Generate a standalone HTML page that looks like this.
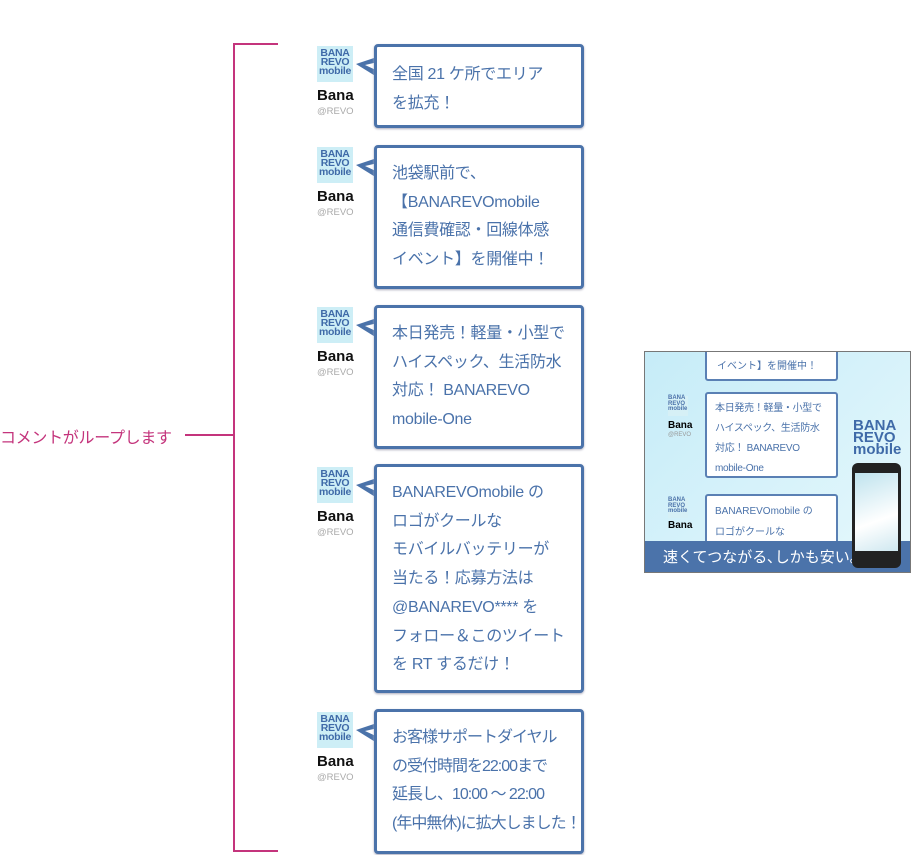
<!DOCTYPE html>
<html><head><meta charset="utf-8"><style>
body{margin:0;width:918px;height:855px;background:#fff;position:relative;overflow:hidden;font-family:"Liberation Sans","Noto Sans CJK JP",sans-serif}
.a{position:absolute}
.bub{position:absolute;left:374px;width:210px;border:3.5px solid #4b73aa;border-radius:4px;background:#fff;color:#4a72aa;font-size:16px;line-height:28.7px;padding:12px 0 0 15px;box-sizing:border-box;box-shadow:0 1px 2px #aab;white-space:nowrap;letter-spacing:-0.3px}
.tail{position:absolute;left:354px}
.logo{position:absolute;left:317px;width:36px;height:36px;background:#cdeef6;color:#3f6aa8;font-weight:bold;font-size:10.5px;line-height:9px;text-align:center;padding-top:3px;box-sizing:border-box;letter-spacing:-0.3px}
.name{position:absolute;left:317px;font-weight:bold;font-size:15px;color:#111}
.at{position:absolute;left:317px;font-size:9.5px;color:#aaa}
</style></head><body>
<div class="a" style="left:233px;top:43px;width:45px;height:2px;background:#c4347c"></div>
<div class="a" style="left:233px;top:43px;width:2px;height:809px;background:#c4347c"></div>
<div class="a" style="left:233px;top:850px;width:45px;height:2px;background:#c4347c"></div>
<div class="a" style="left:185px;top:434px;width:48px;height:1.5px;background:#c4347c"></div>
<div class="a" style="left:0;top:424px;font-size:16px;color:#c4347c;letter-spacing:-0.3px">コメントがループします</div>

<div class="logo" style="top:46px">BANA<br>REVO<br>mobile</div><div class="name" style="top:87px">Bana</div><div class="at" style="top:106px">@REVO</div>
<svg class="tail" style="top:54px" width="24" height="26"><polygon points="23,3 2,10 23,23" fill="#4b73aa"/><polygon points="24,8 11,11 24,17" fill="#fff"/></svg>
<div class="bub" style="top:44px;height:84px;padding-top:14px">全国 21 ケ所でエリア<br>を拡充！</div>

<div class="logo" style="top:147px">BANA<br>REVO<br>mobile</div><div class="name" style="top:188px">Bana</div><div class="at" style="top:207px">@REVO</div>
<svg class="tail" style="top:155px" width="24" height="26"><polygon points="23,3 2,10 23,23" fill="#4b73aa"/><polygon points="24,8 11,11 24,17" fill="#fff"/></svg>
<div class="bub" style="top:145px;height:144px">池袋駅前で、<br>【BANAREVOmobile<br>通信費確認・回線体感<br>イベント】を開催中！</div>

<div class="logo" style="top:307px">BANA<br>REVO<br>mobile</div><div class="name" style="top:348px">Bana</div><div class="at" style="top:367px">@REVO</div>
<svg class="tail" style="top:315px" width="24" height="26"><polygon points="23,3 2,10 23,23" fill="#4b73aa"/><polygon points="24,8 11,11 24,17" fill="#fff"/></svg>
<div class="bub" style="top:305px;height:144px">本日発売！軽量・小型で<br>ハイスペック、生活防水<br>対応！ BANAREVO<br>mobile-One</div>

<div class="logo" style="top:467px">BANA<br>REVO<br>mobile</div><div class="name" style="top:508px">Bana</div><div class="at" style="top:527px">@REVO</div>
<svg class="tail" style="top:475px" width="24" height="26"><polygon points="23,3 2,10 23,23" fill="#4b73aa"/><polygon points="24,8 11,11 24,17" fill="#fff"/></svg>
<div class="bub" style="top:464px;height:229px">BANAREVOmobile の<br>ロゴがクールな<br>モバイルバッテリーが<br>当たる！応募方法は<br>@BANAREVO**** を<br>フォロー＆このツイート<br>を RT するだけ！</div>

<div class="logo" style="top:712px">BANA<br>REVO<br>mobile</div><div class="name" style="top:753px">Bana</div><div class="at" style="top:772px">@REVO</div>
<svg class="tail" style="top:720px" width="24" height="26"><polygon points="23,3 2,10 23,23" fill="#4b73aa"/><polygon points="24,8 11,11 24,17" fill="#fff"/></svg>
<div class="bub" style="top:709px;height:145px;letter-spacing:-1px">お客様サポートダイヤル<br>の受付時間を22:00まで<br>延長し、10:00 ～ 22:00<br>(年中無休)に拡大しました！</div>

<div class="a" style="left:644px;top:351px;width:267px;height:222px;border:1px solid #777;box-sizing:border-box;background:linear-gradient(135deg,#c6ecf8,#e6f8fc);overflow:hidden">
 <div class="a" style="left:60px;top:-5px;width:133px;height:34px;border:2px solid #5a80b4;border-radius:3px;background:#fff;font-size:10px;color:#4a72aa;padding:8px 0 0 10px;box-sizing:border-box;white-space:nowrap">イベント】を開催中！</div>
 <div class="a" style="left:23px;top:44px;width:20px;height:20px;background:#d6f0f6;font-size:6px;line-height:5.5px;color:#4a72aa;font-weight:bold">BANA<br>REVO<br>mobile</div>
 <div class="a" style="left:23px;top:68px;font-size:10px;font-weight:bold">Bana</div><div class="a" style="left:23px;top:80px;font-size:6px;color:#999">@REVO</div>
 <div class="a" style="left:60px;top:40px;width:133px;height:86px;border:2px solid #5a80b4;border-radius:3px;background:#fff;font-size:10px;line-height:20px;color:#4a72aa;padding:5px 0 0 8px;box-sizing:border-box;white-space:nowrap;letter-spacing:-0.3px">本日発売！軽量・小型で<br>ハイスペック、生活防水<br>対応！ BANAREVO<br>mobile-One</div>
 <div class="a" style="left:23px;top:146px;width:20px;height:20px;background:#d6f0f6;font-size:6px;line-height:5.5px;color:#4a72aa;font-weight:bold">BANA<br>REVO<br>mobile</div>
 <div class="a" style="left:23px;top:168px;font-size:10px;font-weight:bold">Bana</div>
 <div class="a" style="left:60px;top:142px;width:133px;height:60px;border:2px solid #5a80b4;border-radius:3px;background:#fff;font-size:10px;line-height:21px;color:#4a72aa;padding:5px 0 0 8px;box-sizing:border-box;white-space:nowrap">BANAREVOmobile の<br>ロゴがクールな</div>
 <div class="a" style="left:0;top:189px;width:267px;height:33px;background:#4b73aa;color:#fff;font-size:15px;line-height:33px;padding-left:18px;box-sizing:border-box;white-space:nowrap">速くてつながる､しかも安い｡</div>
 <div class="a" style="left:208px;top:68px;color:#3f6aa8;font-weight:bold;font-size:15px;line-height:12px">BANA<br>REVO<br>mobile</div>
 <div class="a" style="left:207px;top:111px;width:49px;height:105px;background:#222;border-radius:6px"><div style="margin:10px 3px;height:78px;background:linear-gradient(160deg,#bfe3ee,#fff 60%,#cfe8f0)"></div></div>
</div>
</body></html>
